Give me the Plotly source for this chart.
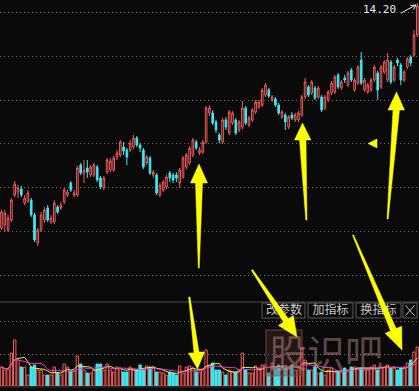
import plotly.graph_objects as go
import pandas as pd

# ---------------- data ----------------
DAYS = list(range(127))

OPEN = [9.70, 9.76, 9.66, 9.86, 10.36, 10.42, 10.48, 10.20, 10.24, 10.26,
        9.96, 9.40, 9.66, 9.86, 10.10, 9.82, 9.82, 10.12, 10.10, 10.22,
        10.36, 10.60, 10.36, 10.36, 10.96, 10.80, 10.90, 10.76, 10.76, 10.92,
        10.70, 10.50, 10.82, 10.86, 10.86, 11.12, 11.16, 11.32, 11.26, 11.26,
        11.32, 11.50, 11.36, 11.26, 11.00, 11.10, 10.76, 10.76, 10.36, 10.46,
        10.52, 10.80, 10.76, 10.76, 10.60, 10.72, 10.92, 11.00, 11.16, 11.42,
        11.20, 11.22, 11.42, 12.00, 12.00, 11.82, 11.56, 11.42, 11.86, 11.60,
        11.80, 11.86, 11.66, 11.72, 12.10, 11.76, 11.86, 12.02, 12.12, 12.16,
        12.36, 12.46, 12.26, 12.28, 12.16, 11.92, 11.96, 11.72, 11.96, 11.86,
        11.86, 11.96, 12.32, 12.52, 12.40, 12.50, 12.32, 12.32, 12.10, 12.26,
        12.40, 12.42, 12.76, 12.50, 12.70, 12.56, 12.86, 12.46, 12.60, 13.06,
        12.46, 12.42, 12.46, 12.66, 12.80, 12.52, 12.82, 12.66, 13.02, 12.66,
        13.06, 12.96, 12.66, 12.92, 13.12, 13.16, 13.56]

HIGH = [10.06, 10.06, 9.96, 10.30, 10.64, 10.56, 10.54, 10.36, 10.46, 10.30,
        10.00, 9.70, 10.02, 10.12, 10.16, 9.96, 10.26, 10.16, 10.22, 10.50,
        10.46, 10.64, 10.46, 10.94, 11.00, 11.06, 11.06, 10.96, 11.00, 10.96,
        10.74, 10.74, 11.10, 11.10, 11.14, 11.26, 11.46, 11.42, 11.30, 11.46,
        11.56, 11.54, 11.40, 11.30, 11.16, 11.14, 10.86, 10.80, 10.60, 10.66,
        10.76, 10.84, 10.80, 10.82, 10.90, 11.14, 11.20, 11.34, 11.50, 11.46,
        11.32, 11.46, 12.14, 12.16, 12.06, 11.86, 11.60, 11.90, 11.92, 12.06,
        12.04, 11.90, 11.86, 12.24, 12.14, 11.94, 12.10, 12.26, 12.26, 12.50,
        12.60, 12.50, 12.36, 12.32, 12.20, 12.06, 12.00, 11.96, 12.02, 12.00,
        12.04, 12.36, 12.70, 12.56, 12.66, 12.54, 12.54, 12.36, 12.36, 12.46,
        12.64, 12.76, 12.80, 12.66, 12.76, 12.84, 12.90, 12.70, 12.96, 13.22,
        12.70, 12.60, 12.70, 12.96, 12.84, 12.96, 13.06, 13.20, 13.06, 12.96,
        13.10, 13.00, 12.86, 13.12, 13.16, 13.66, 14.20]

LOW = [9.66, 9.62, 9.62, 9.82, 10.32, 10.30, 10.32, 10.16, 10.20, 9.92,
       9.42, 9.34, 9.62, 9.80, 9.82, 9.78, 9.78, 9.98, 10.06, 10.18,
       10.32, 10.42, 10.32, 10.32, 10.76, 10.60, 10.70, 10.72, 10.72, 10.62,
       10.48, 10.46, 10.78, 10.82, 10.82, 11.06, 11.12, 11.16, 10.96, 11.22,
       11.28, 11.32, 11.22, 10.88, 10.96, 10.76, 10.70, 10.36, 10.32, 10.42,
       10.48, 10.62, 10.60, 10.62, 10.50, 10.68, 10.88, 10.96, 11.12, 11.26,
       11.16, 11.18, 11.38, 11.94, 11.76, 11.60, 11.40, 11.38, 11.66, 11.56,
       11.76, 11.56, 11.62, 11.68, 11.76, 11.72, 11.82, 11.98, 12.08, 12.12,
       12.32, 12.30, 12.22, 12.12, 11.96, 11.88, 11.66, 11.68, 11.86, 11.82,
       11.82, 11.92, 12.28, 12.32, 12.36, 12.26, 12.28, 12.02, 12.06, 12.22,
       12.36, 12.38, 12.48, 12.46, 12.60, 12.52, 12.62, 12.42, 12.56, 12.56,
       12.42, 12.38, 12.42, 12.62, 12.26, 12.48, 12.78, 12.62, 12.58, 12.62,
       12.94, 12.56, 12.62, 12.88, 12.94, 13.12, 13.52]

CLOSE = [10.02, 10.00, 9.90, 10.26, 10.58, 10.50, 10.36, 10.30, 10.40, 9.96,
         9.46, 9.66, 9.96, 10.06, 9.86, 9.90, 10.20, 10.02, 10.16, 10.46,
         10.42, 10.46, 10.40, 10.90, 10.80, 10.86, 10.82, 10.92, 10.96, 10.66,
         10.52, 10.70, 11.06, 11.04, 11.10, 11.20, 11.42, 11.24, 11.12, 11.40,
         11.50, 11.36, 11.30, 10.92, 11.12, 10.80, 10.82, 10.40, 10.56, 10.62,
         10.72, 10.70, 10.66, 10.70, 10.86, 11.10, 11.16, 11.30, 11.46, 11.30,
         11.26, 11.42, 12.10, 12.10, 11.80, 11.66, 11.46, 11.86, 11.72, 12.02,
         12.00, 11.60, 11.82, 12.10, 11.80, 11.90, 12.06, 12.22, 12.22, 12.46,
         12.56, 12.34, 12.32, 12.16, 12.00, 12.02, 11.82, 11.92, 11.90, 11.96,
         12.00, 12.32, 12.62, 12.36, 12.62, 12.30, 12.50, 12.06, 12.32, 12.42,
         12.60, 12.72, 12.52, 12.62, 12.66, 12.80, 12.66, 12.66, 12.92, 12.60,
         12.66, 12.56, 12.66, 12.92, 12.46, 12.92, 13.02, 13.06, 12.62, 12.92,
         13.00, 12.66, 12.82, 13.08, 13.00, 13.56, 14.14]

VOLUME = [19, 16, 17, 33, 46, 26, 19, 19, 11, 19,
          21, 16, 16, 11, 11, 11, 19, 13, 11, 22,
          19, 15, 15, 30, 22, 16, 13, 13, 16, 22,
          22, 16, 22, 16, 14, 19, 18, 14, 14, 19,
          16, 16, 21, 16, 20, 19, 19, 14, 14, 13,
          11, 14, 13, 11, 20, 13, 19, 20, 18, 14,
          14, 17, 36, 21, 23, 16, 16, 14, 11, 16,
          14, 14, 16, 33, 16, 13, 13, 20, 18, 21,
          21, 13, 23, 19, 21, 20, 19, 18, 21, 16,
          16, 38, 26, 16, 16, 19, 13, 14, 11, 16,
          18, 14, 14, 14, 18, 16, 19, 19, 18, 18,
          16, 16, 19, 21, 16, 19, 19, 21, 18, 18,
          16, 18, 19, 23, 26, 34, 39]

LAST_LABEL = "14.20"
BUTTONS = ["改参数", "加指标", "换指标"]
WATERMARK = "股识吧"

# ---------------- styling / geometry ----------------
W, H = 419, 391
BG = "#0a0a0a"
RED = "#f25a5a"
CYAN = "#3fe8f0"
YEL = "#ffff00"
PITCH = 3.3
X0 = -1.5 / PITCH
X1 = X0 + W / PITCH


def xd(px):
    return X0 + px / PITCH


def pp(px, py):
    return px / W, 1 - py / H


def path(points):
    s = ""
    for k, (a, b) in enumerate(points):
        x, y = pp(a, b)
        s += ("M" if k == 0 else "L") + f"{x:.5f},{y:.5f} "
    return s + "Z"


vol_colors = [RED if c >= o else CYAN for o, c in zip(OPEN, CLOSE)]
vol_fill = [BG if c >= o else CYAN for o, c in zip(OPEN, CLOSE)]
ma5 = pd.Series(VOLUME).rolling(5, min_periods=1).mean()
ma10 = pd.Series(VOLUME).rolling(10, min_periods=1).mean()

fig = go.Figure()
fig.add_trace(go.Candlestick(
    x=DAYS, open=OPEN, high=HIGH, low=LOW, close=CLOSE,
    increasing=dict(line=dict(color=RED, width=1), fillcolor=BG),
    decreasing=dict(line=dict(color=CYAN, width=1), fillcolor=CYAN),
    whiskerwidth=0, showlegend=False, hoverinfo="skip",
    xaxis="x", yaxis="y"))

fig.add_trace(go.Bar(
    x=DAYS, y=VOLUME, width=0.72,
    marker=dict(color=vol_fill, line=dict(color=vol_colors, width=1)),
    showlegend=False, hoverinfo="skip", xaxis="x", yaxis="y2"))
fig.add_trace(go.Scatter(x=DAYS, y=ma5, mode="lines",
                         line=dict(color="#f0f040", width=1),
                         showlegend=False, hoverinfo="skip", xaxis="x", yaxis="y2"))
fig.add_trace(go.Scatter(x=DAYS, y=ma10, mode="lines",
                         line=dict(color="#e040e0", width=1),
                         showlegend=False, hoverinfo="skip", xaxis="x", yaxis="y2"))

# label of the last high
fig.add_trace(go.Scatter(
    x=[xd(379.5)], y=[14.26 - 0.02 * 10], mode="text", text=[LAST_LABEL],
    textfont=dict(family="DejaVu Sans Mono", size=11, color="#e8e8e8"),
    showlegend=False, hoverinfo="skip", cliponaxis=False, xaxis="x", yaxis="y"))

# button labels (as text traces so the yellow arrows can sit above them)
fig.add_trace(go.Scatter(
    x=[xd(284), xd(330.5), xd(378.5)], y=[75.5, 75.5, 75.5], mode="text",
    text=BUTTONS,
    textfont=dict(family="Noto Sans CJK SC", size=12, color="#c8c8c8"),
    showlegend=False, hoverinfo="skip", cliponaxis=False, xaxis="x", yaxis="y2"))

shapes = []
# separator and bottom line
for py, col in [(302, "#4a4a4a"), (387, "#3a3a3a")]:
    shapes.append(dict(type="line", xref="paper", yref="paper",
                       x0=0, x1=1, y0=1 - py / H, y1=1 - py / H,
                       line=dict(color=col, width=1), layer="below"))
# button boxes
for a, b in [(262, 305), (308, 353), (356, 401), (403, 417)]:
    x0p, y0p = pp(a, 303)
    x1p, y1p = pp(b, 318)
    shapes.append(dict(type="rect", xref="paper", yref="paper",
                       x0=x0p, x1=x1p, y0=y1p, y1=y0p,
                       line=dict(color="#5a5a5a", width=1), fillcolor="rgba(0,0,0,0)",
                       layer="above"))
for (a1, b1), (a2, b2) in [((405.5, 305.5), (414.5, 315.5)), ((414.5, 305.5), (405.5, 315.5))]:
    p1 = pp(a1, b1)
    p2 = pp(a2, b2)
    shapes.append(dict(type="line", xref="paper", yref="paper",
                       x0=p1[0], y0=p1[1], x1=p2[0], y1=p2[1],
                       line=dict(color="#c8c8c8", width=1), layer="above"))
# small white arrow next to the label
for (a1, b1), (a2, b2) in [((401, 13), (416, 5)), ((416, 5), (410.5, 5.5)), ((416, 5), (413.5, 9.5))]:
    p1 = pp(a1, b1)
    p2 = pp(a2, b2)
    shapes.append(dict(type="line", xref="paper", yref="paper",
                       x0=p1[0], y0=p1[1], x1=p2[0], y1=p2[1],
                       line=dict(color="#e8e8e8", width=1), layer="above"))

# faint rounded badge behind the watermark's first glyph
bx0, by1 = pp(266, 330)
bx1, by0 = pp(302, 376)
shapes.append(dict(type="rect", xref="paper", yref="paper",
                   x0=bx0, x1=bx1, y0=by0, y1=by1,
                   line=dict(color="rgba(150,90,80,0.35)", width=2),
                   fillcolor="rgba(90,50,45,0.35)", layer="above"))

# hand-drawn yellow arrows (overlay decoration)
ARROWS = [
    [(199, 164), (207.5, 183), (202.5, 183), (199.3, 268), (198.3, 268), (195.5, 183), (190.5, 183)],
    [(302.5, 123), (311, 140), (306, 140), (307, 220), (305.8, 220), (299.5, 140), (294.5, 140)],
    [(396.5, 92), (404.5, 110), (399.5, 110), (388.2, 219), (387, 219), (393, 110), (388, 110)],
    [(188.6, 297), (190, 297), (199, 352), (204.5, 352), (197.5, 369), (188.5, 353), (194, 353)],
    [(251.4, 270.4), (252.6, 269.6), (288.4, 318.7), (293.4, 315.4), (297, 337), (278.4, 325.4), (283.4, 322.1)],
    [(352.5, 235.2), (353.5, 234.8), (396.2, 328.6), (401.7, 326.3), (402, 350), (385.1, 333.3), (390.6, 331.0)],
    [(368, 143.5), (377, 139), (377, 148)],
]
for poly in ARROWS:
    shapes.append(dict(type="path", xref="paper", yref="paper", path=path(poly),
                       fillcolor=YEL, line=dict(color=YEL, width=0.5), layer="above"))

wx, wy = pp(326, 350)
annotations = [dict(text=WATERMARK, xref="paper", yref="paper", x=wx, y=wy,
                    xanchor="center", yanchor="middle", showarrow=False,
                    font=dict(family="Noto Sans CJK SC", size=38, color="rgba(200,150,145,0.45)"))]

fig.update_layout(
    width=W, height=H, margin=dict(l=0, r=0, t=0, b=0),
    paper_bgcolor=BG, plot_bgcolor=BG,
    showlegend=False, hovermode=False,
    xaxis=dict(range=[X0, X1], domain=[0, 1], anchor="y", showticklabels=False,
               showgrid=False, zeroline=False, showline=False, ticks="",
               rangeslider=dict(visible=False), fixedrange=True),
    yaxis=dict(range=[8.26, 14.26], domain=[1 - 300 / H, 1], anchor="x",
               showticklabels=False, zeroline=False, showline=False, ticks="",
               tickvals=[14.02, 13.14, 12.26, 11.39, 10.51, 9.63, 8.76],
               showgrid=True, gridcolor="#6e6e6e", gridwidth=1, griddash="1px,3px",
               fixedrange=True),
    yaxis2=dict(range=[0, 83], domain=[1 - 386 / H, 1 - 303 / H], anchor="x",
                showticklabels=False, zeroline=False, showline=False, ticks="",
                tickvals=[32, 65], showgrid=True, gridcolor="#6e6e6e", gridwidth=1,
                griddash="1px,3px", fixedrange=True),
    shapes=shapes, annotations=annotations,
)

fig.write_html("out.html", config={"displayModeBar": False},
               post_script="document.body.style.margin='0';")
